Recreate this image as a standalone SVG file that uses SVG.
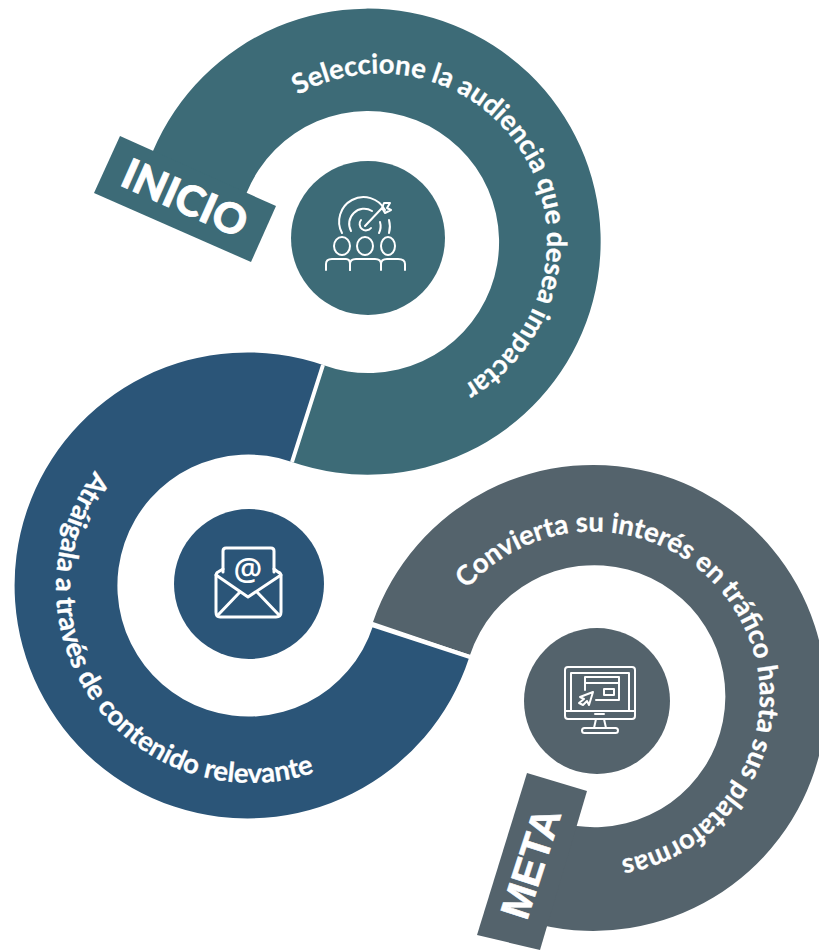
<svg xmlns="http://www.w3.org/2000/svg" width="819" height="952" viewBox="0 0 819 952">
<style>
.t{font-family:"Lato","Noto Sans",sans-serif;font-weight:700;font-size:27.4px;fill:#fff;stroke:#fff;stroke-width:.3}
.i{fill:none;stroke:#fff;stroke-width:2;stroke-linecap:round;stroke-linejoin:round}
.teal{fill:#3d6b77}.blue{fill:#2b5578}.gray{fill:#54636c}
</style>
<defs>
<path id="p1" d="M298 95A167 167 0 0 1 547 241A167 167 0 0 1 380 408A167 167 0 0 1 213 241A167 167 0 0 1 298 95"/>
<path id="p2" d="M95 471A195 195 0 0 0 56 588A195 195 0 0 0 251 783A195 195 0 0 0 446 588A195 195 0 0 0 251 393A195 195 0 0 0 95 471"/>
<path id="p3" d="M467 589A167 167 0 0 1 760 695A167 167 0 0 1 593 862A167 167 0 0 1 426 695A167 167 0 0 1 467 589"/>
</defs>
<g id="connectors">
<path class="gray" d="M373 622A233 233 0 1 1 541 925L535 923L572 824L577 826A131 131 0 1 0 470 655Z"/>
<path class="blue" d="M323 365A233 233 0 1 0 469 658L373 626A131 131 0 1 1 292 462Z"/>
<path class="teal" d="M153 151A233 233 0 1 1 292 462L323 365A131 131 0 1 0 247 192L244 198L150 157Z"/>
<path d="M323 365L292 462M372 625L470 657" fill="none" stroke="#fff" stroke-width="4"/>
</g>
<g id="inicio">
<path class="teal" d="M120 136L276 206L251 262L94 193Z"/>
<text font-family="Lato,sans-serif" font-weight="900" font-size="42" fill="#fff" stroke="#fff" stroke-width=".8" text-anchor="middle" transform="translate(185 198) rotate(24) translate(0 15)">INICIO</text>
<circle class="teal" cx="368" cy="238" r="77"/>
<g class="i">
<path d="M342 233A24 24 0 0 1 385 210M389 220A24 24 0 0 1 389 233"/>
<path d="M351 231A15 15 0 0 1 372 211M380 222A15 15 0 0 1 379 233"/>
<path d="M361 220A6 6 0 1 0 371 228"/>
<path d="M365 226L382 208M382 208L384 203L390 203L387 208L391 210L385 213Z"/>
<ellipse cx="342" cy="246" rx="8" ry="9"/><ellipse cx="365" cy="246" rx="8" ry="9"/><ellipse cx="388" cy="246" rx="7" ry="9"/>
<path d="M326 270V264Q326 259 332 259H346Q350 259 350 264V270"/>
<path d="M350 270V264Q350 259 356 259H375Q381 259 381 264V270"/>
<path d="M381 264Q381 259 387 259H398Q405 259 405 264V270"/>
</g>
<text class="t"><textPath href="#p1">Seleccione la audiencia que desea impactar</textPath></text>
</g>
<g id="atraigala">
<circle class="blue" cx="249" cy="584" r="75"/>
<g class="i" style="stroke-width:3">
<path d="M223 572V551Q223 548 226 548H271Q274 548 274 551V572"/>
<path d="M223 569L218 572Q216 573 216 576V612Q216 617 220 617H276Q281 617 281 612V576Q281 573 278 572L274 569"/>
<path d="M216 575L248 597L281 575"/>
<path d="M218 615L240 592M279 615L257 592"/>
</g>
<text x="248" y="581" font-family="Noto Sans,sans-serif" font-size="32" font-weight="500" fill="#fff" text-anchor="middle">@</text>
<text class="t"><textPath href="#p2">Atráigala a través de contenido relevante</textPath></text>
</g>
<g id="meta">
<path class="gray" d="M527 773L587 791L540 950L477 935Z"/>
<text font-family="Liberation Sans,sans-serif" font-weight="700" font-size="41" fill="#fff" stroke="#fff" stroke-width=".6" text-anchor="middle" transform="translate(530 863) rotate(-72) translate(0 15)">META</text>
<circle class="gray" cx="597" cy="701" r="73"/>
<g class="i">
<rect x="565" y="667" width="70" height="52" rx="3"/>
<path d="M571 711V673H629V711M565 711H635"/>
<path d="M585 690V677H619V700H596M585 683H619"/>
<rect x="604" y="689" width="10" height="6"/>
<path d="M593 692L580 697L584 699L579 703L583 705L587 701L589 705Z"/>
<path d="M595 714H604M596 719L594 728M604 719L606 728"/>
<rect x="582" y="728" width="36" height="5" rx="2.5"/>
</g>
<text class="t"><textPath href="#p3">Convierta su interés en tráfico hasta sus plataformas</textPath></text>
</g>
</svg>
